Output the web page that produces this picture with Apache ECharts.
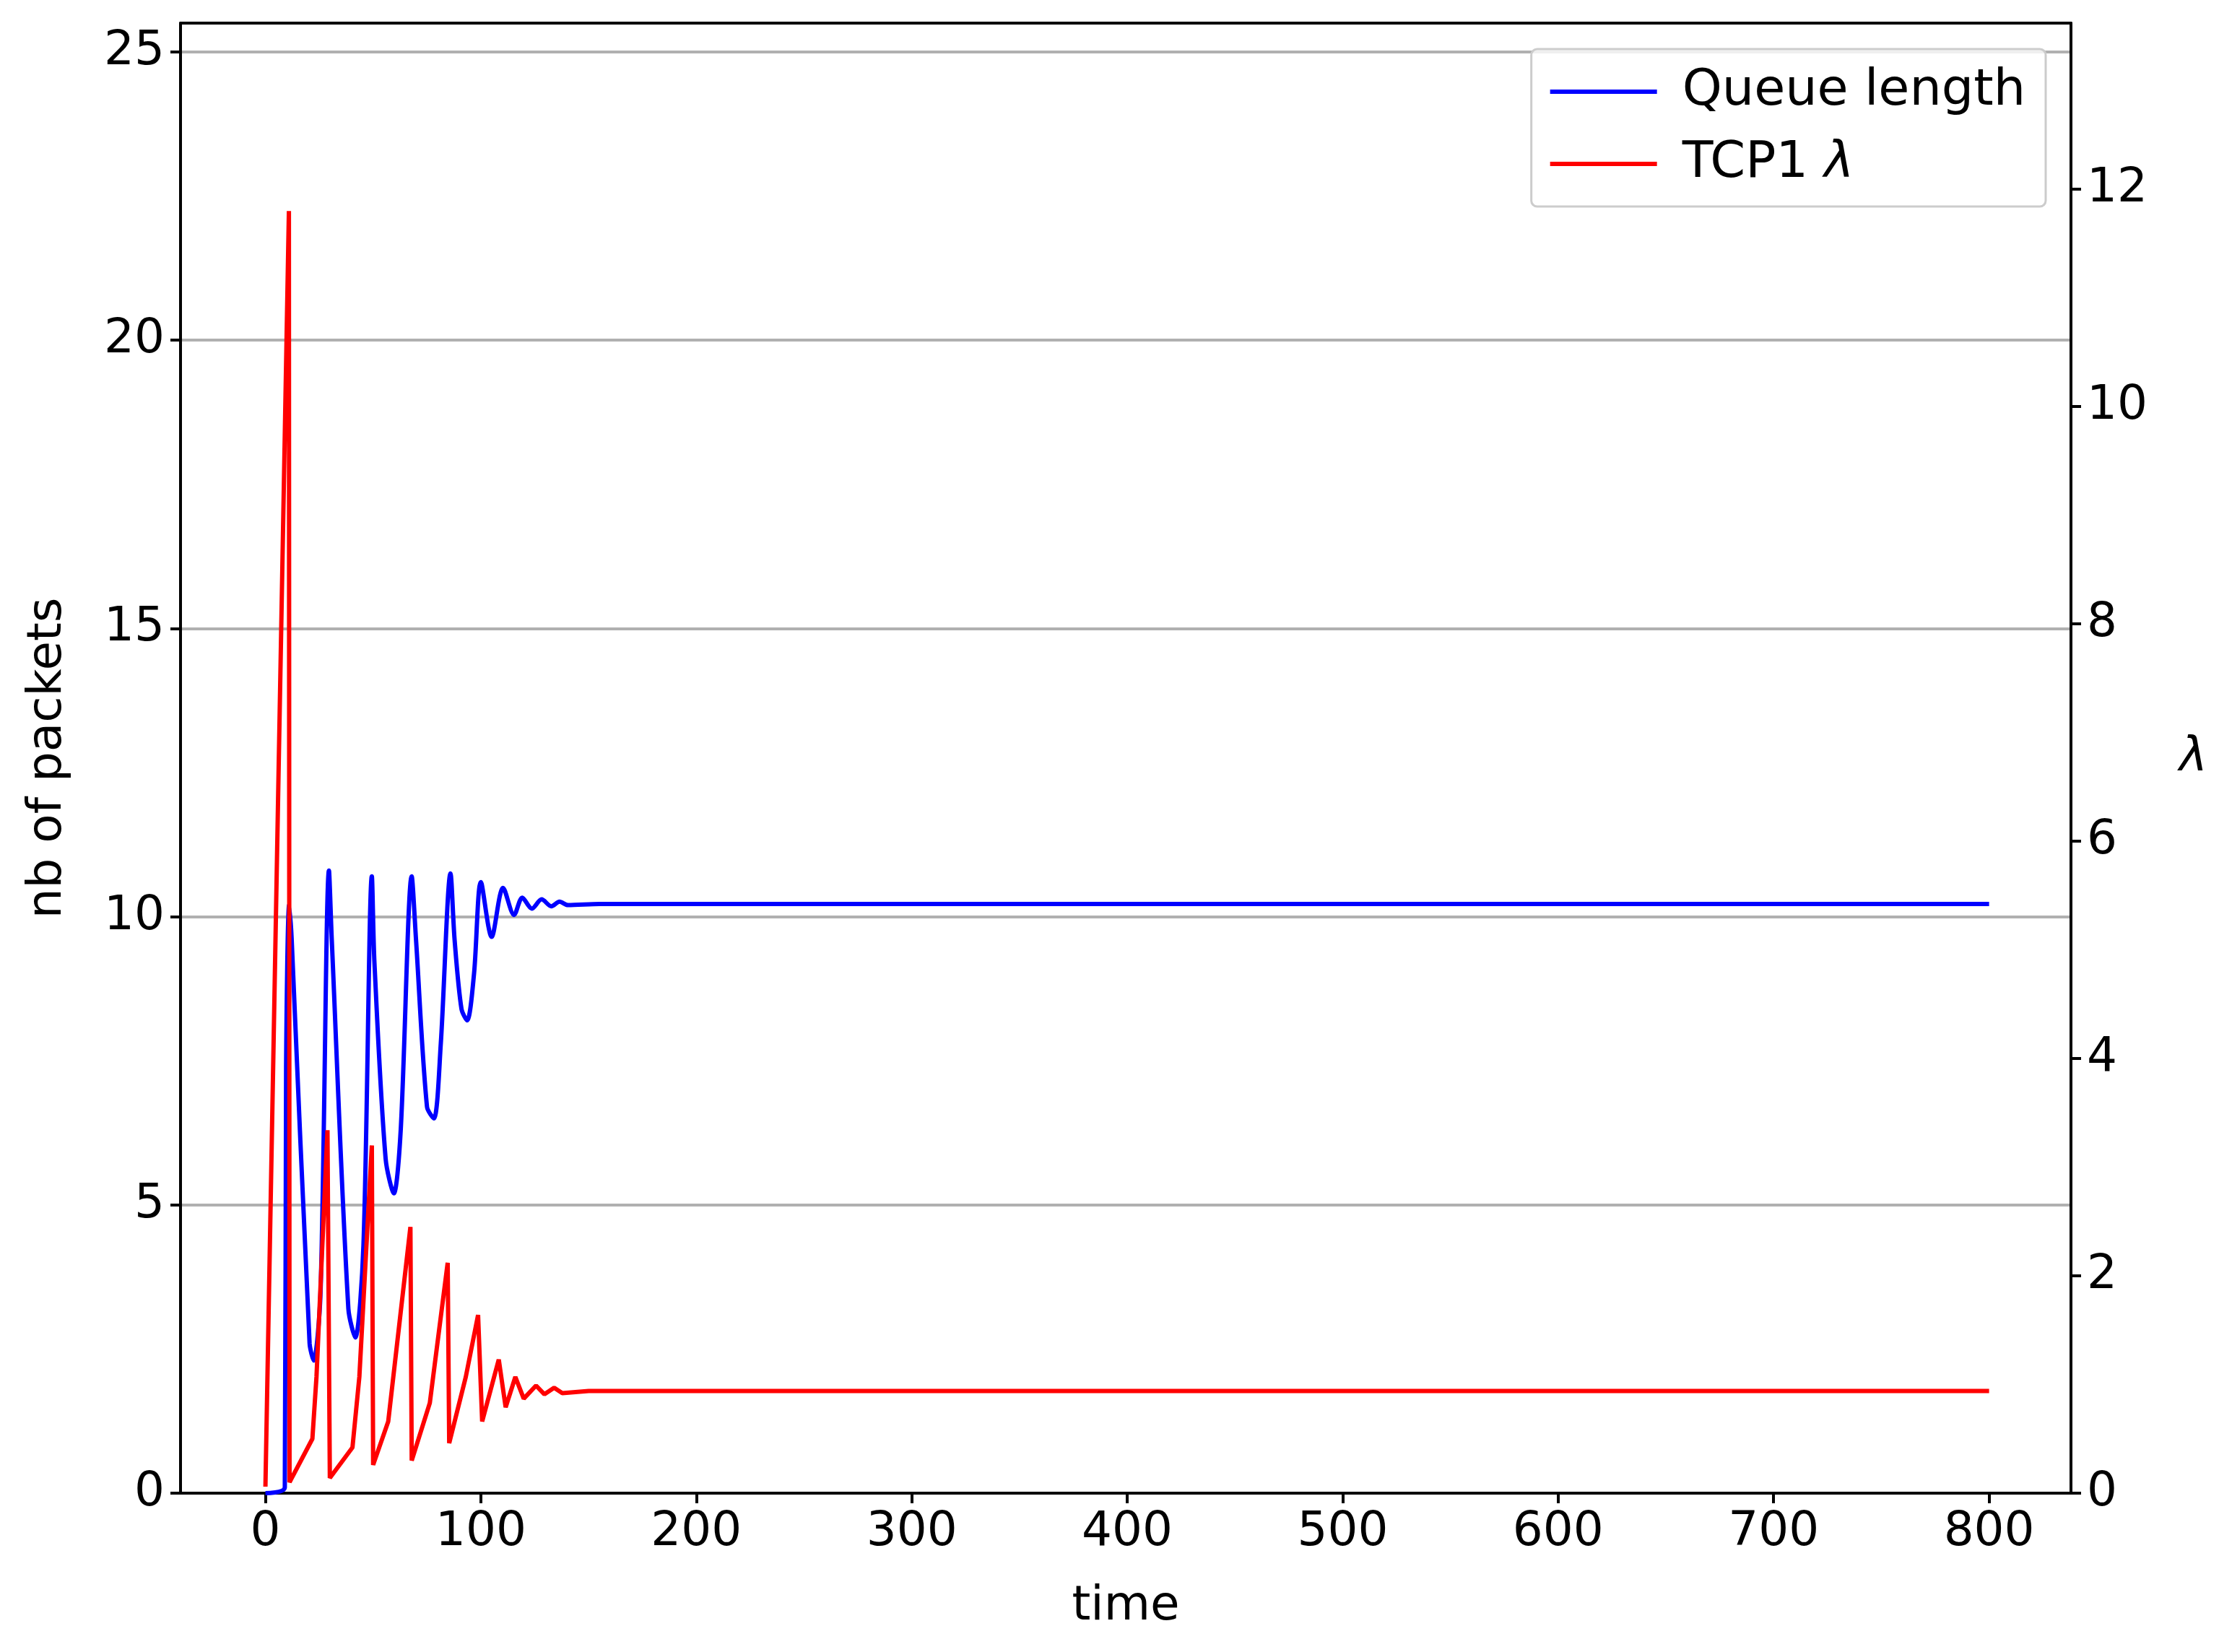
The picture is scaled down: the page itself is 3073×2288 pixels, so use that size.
<!DOCTYPE html>
<html>
<head>
<meta charset="utf-8">
<script src="https://cdn.jsdelivr.net/npm/echarts@6/dist/echarts.min.js"></script>
<style>html,body{margin:0;padding:0;background:#fff}#chart{width:3073px;height:2288px}</style>
</head>
<body>
<div id="chart"></div>
<script>
// queue length (nb of packets) over time
var queueTime = [0, 9, 9.6, 11, 12.2, 20.5, 22.4, 25.6, 29.5, 30.8, 38.5, 41.7, 45.5, 49.4, 50.6, 55.8, 59.6, 62.8, 67.9, 69.9, 75, 78.2, 81.4, 85.9, 87.8, 91, 93.6, 96.8, 100, 105, 110.3, 115.4, 119.2, 123.7, 128.2, 132.7, 136.5, 140.4, 155, 800];
var queueLen = [0, 0.1, 7.4, 10.2, 9.6, 2.6, 2.3, 3.5, 10.8, 9.6, 3.2, 2.7, 4.3, 10.7, 9.2, 5.8, 5.2, 6.3, 10.7, 9.6, 6.7, 6.5, 7.8, 10.75, 9.6, 8.4, 8.2, 9.0, 10.6, 9.65, 10.5, 10.03, 10.33, 10.14, 10.3, 10.18, 10.26, 10.2, 10.22, 10.22];
// TCP1 lambda over time
var lambdaTime = [0, 10.9, 11.2, 21.8, 23.7, 28.8, 29.9, 40.4, 43.6, 49.4, 50, 57, 67.3, 67.9, 76.3, 84.6, 85.3, 93, 98.7, 100.6, 108.3, 111.5, 116, 119.9, 125.6, 129.5, 134, 137.8, 150, 800];
var lambdaVal = [0.06, 11.8, 0.1, 0.5, 1.07, 3.34, 0.14, 0.42, 1.07, 3.2, 0.26, 0.66, 2.45, 0.3, 0.83, 2.12, 0.46, 1.07, 1.64, 0.66, 1.23, 0.79, 1.07, 0.87, 0.99, 0.91, 0.97, 0.92, 0.94, 0.94];
var xTicks = [0, 100, 200, 300, 400, 500, 600, 700, 800];

function pairs(xs, ys) {
    return xs.map(function (x, i) { return [x, ys[i]]; });
}

var font = 'DejaVu Sans';
var fs = 66;
var chart = echarts.init(document.getElementById('chart'));
chart.setOption({
    animation: false,
    textStyle: {fontFamily: font},
    grid: {left: 250, right: 205, top: 32, bottom: 220, containLabel: false},
    legend: {
        right: 240, top: 68,
        orient: 'vertical',
        itemWidth: 148, itemHeight: 6, itemGap: 30,
        padding: [24, 28, 24, 26],
        borderColor: '#cccccc', borderWidth: 3, borderRadius: 8,
        backgroundColor: 'rgba(255,255,255,0.8)',
        icon: 'rect',
        textStyle: {
            fontSize: 70, fontFamily: font, color: '#000', padding: [0, 0, 0, 30],
            rich: {i: {fontSize: 70, fontStyle: 'italic', fontFamily: font}}
        },
        formatter: function (n) { return n === 'TCP1 λ' ? 'TCP1 {i|λ}' : n; },
        data: ['Queue length', 'TCP1 λ']
    },
    xAxis: [{
        type: 'value', min: -39.4, max: 838,
        name: 'time', nameLocation: 'middle', nameGap: 125,
        nameTextStyle: {fontSize: fs, color: '#000'},
        axisLine: {onZero: false, lineStyle: {color: '#000', width: 4}},
        axisTick: {show: true, length: 14, lineStyle: {width: 4, color: '#000'}, customValues: xTicks},
        axisLabel: {fontSize: fs, color: '#000', margin: 22, customValues: xTicks},
        splitLine: {show: false}
    }, {
        type: 'value', min: -39.4, max: 838, position: 'top',
        axisLine: {onZero: false, lineStyle: {color: '#000', width: 4}},
        axisTick: {show: false}, axisLabel: {show: false}, splitLine: {show: false}
    }],
    yAxis: [{
        type: 'value', min: 0, max: 25.5, interval: 5,
        name: 'nb of packets', nameLocation: 'middle', nameGap: 150, nameRotate: 90,
        nameTextStyle: {fontSize: fs, color: '#000'},
        axisLine: {show: true, onZero: false, lineStyle: {color: '#000', width: 4}},
        axisTick: {show: true, length: 14, lineStyle: {width: 4, color: '#000'}},
        axisLabel: {fontSize: fs, color: '#000', margin: 22, showMaxLabel: false},
        splitLine: {show: true, showMaxLine: false, lineStyle: {color: '#b0b0b0', width: 4}}
    }, {
        type: 'value', min: 0, max: 13.53, interval: 2,
        name: 'λ', nameLocation: 'middle', nameGap: 150, nameRotate: 0,
        nameTextStyle: {fontSize: fs, color: '#000', fontStyle: 'italic'},
        axisLine: {show: true, onZero: false, lineStyle: {color: '#000', width: 4}},
        axisTick: {show: true, length: 14, lineStyle: {width: 4, color: '#000'}},
        axisLabel: {fontSize: fs, color: '#000', margin: 22, showMaxLabel: false},
        splitLine: {show: false}
    }],
    series: [{
        name: 'Queue length', type: 'line', xAxisIndex: 0, yAxisIndex: 0,
        data: pairs(queueTime, queueLen),
        showSymbol: false, smooth: 0.3,
        lineStyle: {color: '#0000ff', width: 6}, itemStyle: {color: '#0000ff'}
    }, {
        name: 'TCP1 λ', type: 'line', xAxisIndex: 0, yAxisIndex: 1,
        data: pairs(lambdaTime, lambdaVal),
        showSymbol: false,
        lineStyle: {color: '#ff0000', width: 6}, itemStyle: {color: '#ff0000'}
    }]
});
</script>
</body>
</html>
